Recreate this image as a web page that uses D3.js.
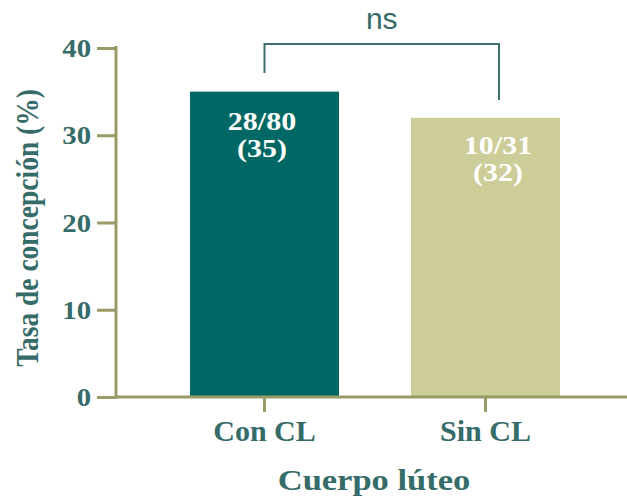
<!DOCTYPE html>
<html><head><meta charset="utf-8">
<script src="https://cdn.jsdelivr.net/npm/d3@7"></script>
<style>body{margin:0;background:#fff}svg{display:block}</style>
</head><body>
<script>
const categories = ["Con CL", "Sin CL"];
const values = [35, 32];
const fractions = ["28/80", "10/31"];
const percentLabels = ["(35)", "(32)"];
const yTicks = [0, 10, 20, 30, 40];
const sigLabel = "ns";
const xTitle = "Cuerpo lúteo";
const yTitle = "Tasa de concepción (%)";

const W = 627, H = 497;
const axisColor = "#9a9a66", textColor = "#356b68";
const barColors = ["#006864", "#cdcd99"];
const serif = "'Liberation Serif','Times New Roman',serif";

const svg = d3.select("body").append("svg").attr("width", W).attr("height", H);

const y = d3.scaleLinear().domain([0, 40]).range([397, 48]);
const x = d3.scaleBand().domain(categories).range([190, 560]).paddingInner(0.326).paddingOuter(0);

// bars
svg.selectAll("rect.bar").data(categories).join("rect")
  .attr("x", d => x(d)).attr("width", x.bandwidth())
  .attr("y", (d, i) => y(values[i])).attr("height", (d, i) => y(0) - y(values[i]))
  .attr("fill", (d, i) => barColors[i]);

// y axis
const yAxis = d3.axisLeft(y).tickValues(yTicks).tickSize(19).tickPadding(5).tickFormat(d3.format("d"));
const gy = svg.append("g").attr("transform", "translate(116,0)").call(yAxis);
gy.select(".domain").attr("stroke", axisColor).attr("stroke-width", 3).attr("d", "M0,46V398.5");
gy.selectAll(".tick line").attr("stroke", axisColor).attr("stroke-width", 3);
gy.selectAll(".tick text").attr("fill", textColor).attr("font-family", serif).attr("font-weight", "bold")
  .attr("font-size", 25).attr("dy", "0.34em").attr("transform", "scale(1.15,1)")
  .attr("x", -25 / 1.15 * 1.0);

// x axis
const xAxis = d3.axisBottom(x).tickSize(15).tickPadding(10);
const gx = svg.append("g").attr("transform", "translate(0,397)").call(xAxis);
gx.select(".domain").attr("stroke", axisColor).attr("stroke-width", 3).attr("d", "M114.5,0H627");
gx.selectAll(".tick line").attr("stroke", axisColor).attr("stroke-width", 3);
gx.selectAll(".tick text").attr("fill", textColor).attr("font-family", serif).attr("font-weight", "bold")
  .attr("font-size", 30).attr("y", 44).attr("dy", 0);

// bar labels
const labelX = [262, 498];
const labelY1 = [130, 154];
categories.forEach((c, i) => {
  const g = svg.append("g").attr("transform", `translate(${labelX[i]},0)`);
  g.append("text").attr("y", labelY1[i]).attr("text-anchor", "middle").attr("fill", "#fff")
    .attr("font-family", serif).attr("font-weight", "bold").attr("font-size", 25)
    .attr("transform", "scale(1.2,1)").attr("x", 0).text(fractions[i]);
  g.append("text").attr("y", labelY1[i] + 27).attr("text-anchor", "middle").attr("fill", "#fff")
    .attr("font-family", serif).attr("font-weight", "bold").attr("font-size", 25)
    .attr("transform", "scale(1.2,1)").text(percentLabels[i]);
});

// significance bracket
const bx1 = x("Con CL") + x.bandwidth() / 2, bx2 = 499;
svg.append("path").attr("d", `M${bx1},73V44H${bx2}V100`).attr("fill", "none")
  .attr("stroke", "#3d706c").attr("stroke-width", 2);
svg.append("text").attr("x", (bx1 + bx2) / 2).attr("y", 29).attr("text-anchor", "middle")
  .attr("font-family", "'Liberation Sans',Arial,sans-serif").attr("font-size", 30).attr("fill", textColor).text(sigLabel);

// axis titles
svg.append("text").attr("transform", "translate(374,490) scale(1.15,1)").attr("text-anchor", "middle")
  .attr("fill", textColor).attr("font-family", serif).attr("font-weight", "bold").attr("font-size", 30).text(xTitle);
svg.append("text").attr("transform", "translate(38,228) rotate(-90) scale(1,1.15)").attr("text-anchor", "middle")
  .attr("fill", textColor).attr("font-family", serif).attr("font-weight", "bold").attr("font-size", 27.5).text(yTitle);
</script>
</body></html>
